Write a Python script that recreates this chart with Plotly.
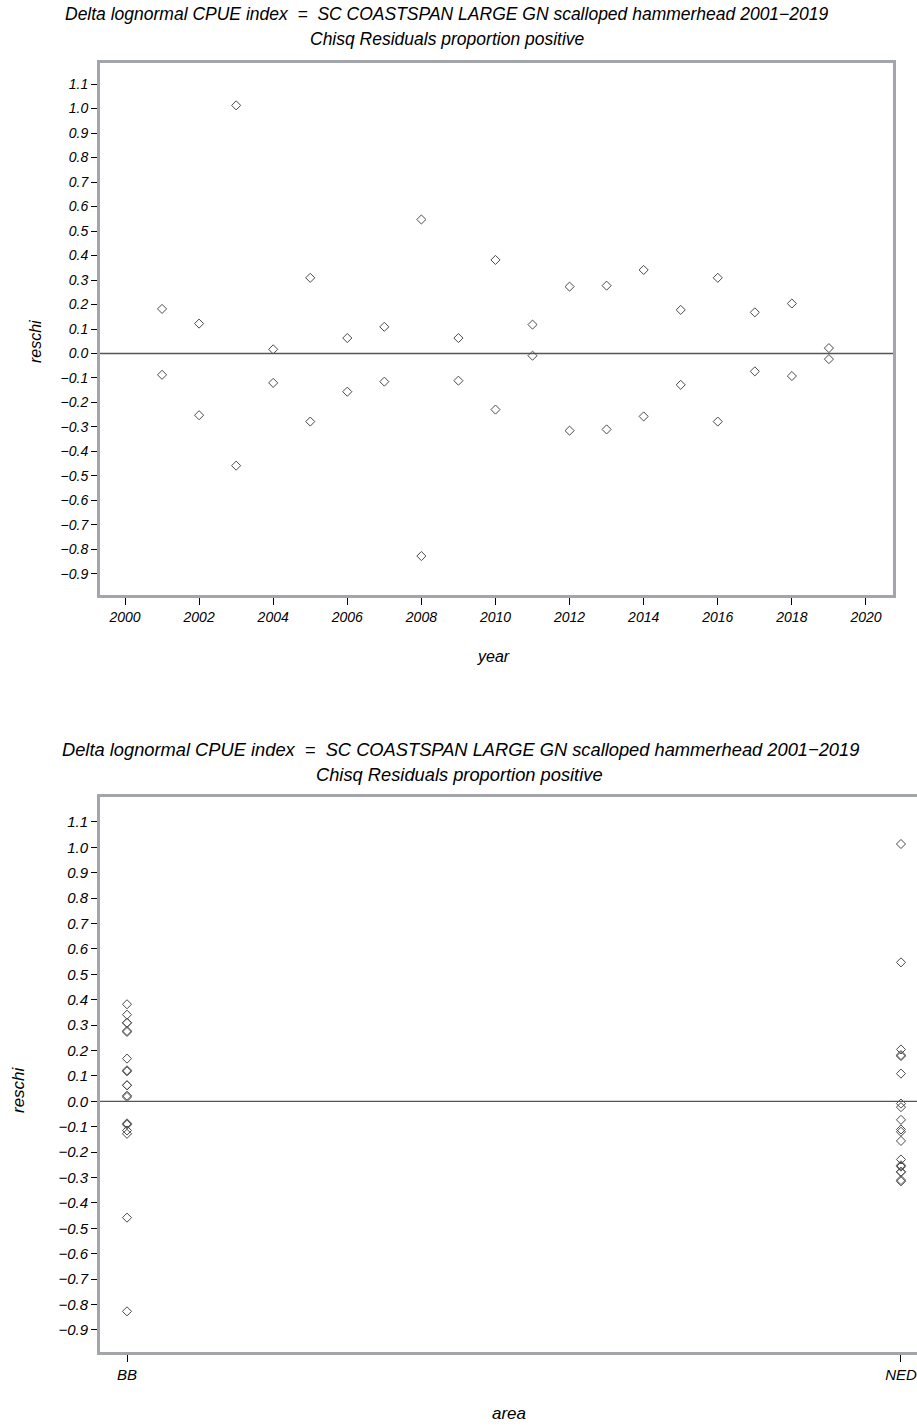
import plotly.graph_objects as go

# ---------------- data ----------------
years = list(range(2001, 2020))
bb_reschi = [-0.087, 0.122, -0.458, 0.017, 0.309, 0.063, -0.115, -0.827, 0.063, 0.382,
             0.118, 0.273, 0.277, 0.341, -0.128, 0.309, 0.168, -0.092, 0.022]
ned_reschi = [0.182, -0.252, 1.013, -0.120, -0.278, -0.156, 0.109, 0.547, -0.111, -0.229,
              -0.009, -0.315, -0.310, -0.257, 0.178, -0.278, -0.073, 0.204, -0.023]
areas = ["BB", "NED"]
area_pos = [0, 1]
year_ticks = list(range(2000, 2021, 2))
y_ticks = [round(-0.9 + 0.1 * i, 1) for i in range(21)]
title1 = "Delta lognormal CPUE index  =  SC COASTSPAN LARGE GN scalloped hammerhead 2001\u22122019"
title2 = "Chisq Residuals proportion positive"

# ---------------- layout helpers ----------------
W, H = 917, 1427
FONT = "Liberation Sans, Arial, sans-serif"
FRAME = "#a2a6aa"
MK = dict(symbol="diamond-open", size=7, color="#4a4a4a", line=dict(width=1))

def px_x(v):
    return v / W

def px_y(v):
    return 1 - v / H

fig = go.Figure()

# top panel: residuals by year (both areas)
fig.add_trace(go.Scatter(x=years, y=bb_reschi, mode="markers", marker=MK,
                         xaxis="x", yaxis="y", showlegend=False))
fig.add_trace(go.Scatter(x=years, y=ned_reschi, mode="markers", marker=MK,
                         xaxis="x", yaxis="y", showlegend=False))

# bottom panel: residuals by area
fig.add_trace(go.Scatter(x=[area_pos[0]] * len(bb_reschi), y=bb_reschi, mode="markers",
                         marker=MK, xaxis="x2", yaxis="y2", showlegend=False))
fig.add_trace(go.Scatter(x=[area_pos[1]] * len(ned_reschi), y=ned_reschi, mode="markers",
                         marker=MK, xaxis="x2", yaxis="y2", showlegend=False))

tickfont = dict(family=FONT, size=14, color="black", style="italic")
tickfont2 = dict(family=FONT, size=15, color="black", style="italic")

ytext = [f"{v:.1f}".replace("-", "\u2212") for v in y_ticks]

fig.update_layout(
    width=W, height=H,
    margin=dict(l=0, r=0, t=0, b=0),
    paper_bgcolor="white", plot_bgcolor="white",
    xaxis=dict(domain=[px_x(100), px_x(893)], range=[1999.325, 2020.73],
               tickvals=year_ticks, ticks="outside", ticklen=7, tickcolor="black",
               tickwidth=1, showgrid=False, zeroline=False, showline=True, mirror=True,
               linecolor=FRAME, linewidth=3, tickfont=tickfont, anchor="y"),
    yaxis=dict(domain=[px_y(595), px_y(63)], range=[-0.986, 1.186],
               tickvals=y_ticks, ticktext=ytext, ticks="outside", ticklen=6,
               tickcolor="black", tickwidth=1, showgrid=False, zeroline=False,
               showline=True, mirror=True, linecolor=FRAME, linewidth=3,
               tickfont=tickfont, anchor="x"),
    xaxis2=dict(domain=[px_x(100), 1.0], range=[-0.0349, 1.0207],
                tickvals=area_pos, ticktext=areas, ticks="outside", ticklen=7,
                tickcolor="black", tickwidth=1, showgrid=False, zeroline=False,
                showline=True, mirror=True, linecolor=FRAME, linewidth=3,
                tickfont=tickfont2, anchor="y2"),
    yaxis2=dict(domain=[px_y(1352), px_y(797)], range=[-0.987, 1.198],
                tickvals=y_ticks, ticktext=ytext, ticks="outside", ticklen=6,
                tickcolor="black", tickwidth=1, showgrid=False, zeroline=False,
                showline=True, mirror=False, linecolor=FRAME, linewidth=3,
                tickfont=tickfont2, anchor="x2"),
)

# zero reference lines
fig.add_shape(type="line", xref="x domain", yref="y", x0=0, x1=1, y0=0, y1=0,
              line=dict(color="#555555", width=1.3))
fig.add_shape(type="line", xref="x2 domain", yref="y2", x0=0, x1=1, y0=0, y1=0,
              line=dict(color="#555555", width=1.3))

def ann(text, x, y, size=16, angle=0):
    fig.add_annotation(text=text, x=px_x(x), y=px_y(y), xref="paper", yref="paper",
                       showarrow=False, textangle=angle, xanchor="center", yanchor="middle",
                       font=dict(family=FONT, size=size, color="black", style="italic"))

# titles
ann(title1, 447, 14, size=17.5)
ann(title2, 447, 39, size=17.5)
ann(title1, 461, 749, size=18.3)
ann(title2, 459, 774, size=18.3)

# axis titles
ann("reschi", 35, 342)
fig.layout.annotations[-1].textangle = -90
ann("year", 494, 656)
ann("reschi", 18, 1090, size=17)
fig.layout.annotations[-1].textangle = -90
ann("area", 509, 1413, size=17)

fig.write_html("out.html")
